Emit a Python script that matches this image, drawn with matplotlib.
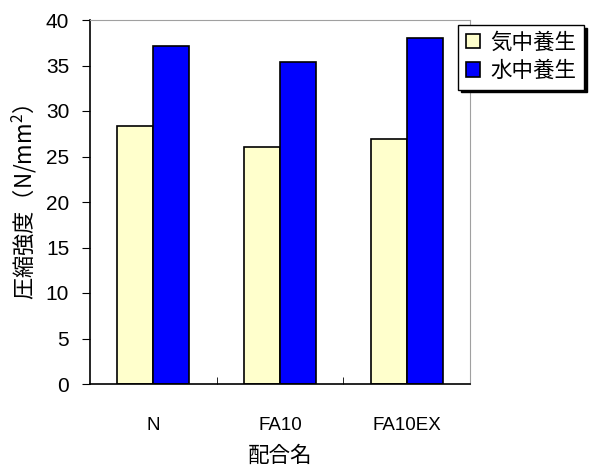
import numpy as np
import matplotlib
matplotlib.use("Agg")
import matplotlib.pyplot as plt

plt.rcParams['font.family'] = ['Liberation Sans', 'Noto Sans CJK JP', 'DejaVu Sans']
# mathtext (only the y label uses it) needs one font holding both CJK and Latin
plt.rcParams['mathtext.fontset'] = 'custom'
plt.rcParams['mathtext.rm'] = 'Noto Sans CJK JP'
plt.rcParams['mathtext.default'] = 'rm'

# 配合ごとの圧縮強度 (N/mm2)
mixes = ['N', 'FA10', 'FA10EX']
air_cured = [28.4, 26.0, 26.9]     # 気中養生
water_cured = [37.1, 35.4, 38.0]   # 水中養生
series_names = ['気中養生', '水中養生']

fig = plt.figure(figsize=(5.92, 4.66), dpi=100)
ax = fig.add_axes([90/592, 1 - 384/466, 380/592, 364/466])

x = np.arange(len(mixes))
w = 0.285
ax.bar(x - w/2, air_cured, w, color='#FFFFCC', edgecolor='black', linewidth=1.2, label=series_names[0])
ax.bar(x + w/2, water_cured, w, color='#0000FF', edgecolor='black', linewidth=1.2, label=series_names[1])

ax.set_xlim(-0.5, len(mixes) - 0.5)
ax.set_ylim(0, 40)
ax.set_yticks(np.arange(0, 41, 5))
ax.set_xticks(x)
ax.set_xticklabels(mixes)
ax.set_xticks(np.arange(0.5, len(mixes) - 0.5), minor=True)
ax.tick_params(axis='x', which='major', length=0, pad=24, labelsize=13.5)
ax.tick_params(axis='x', which='minor', direction='in', length=5)
ax.tick_params(axis='y', direction='out', length=6, labelsize=15, pad=9)

for side in ['top', 'right']:
    ax.spines[side].set_color('#A0A0A0')
for side in ['left', 'bottom']:
    ax.spines[side].set_linewidth(1.2)

ax.set_xlabel('配合名', fontsize=15.5, labelpad=8)
ax.set_ylabel('圧縮強度（N/mm$^{2}$）', fontsize=16, labelpad=5,
              family='Noto Sans CJK JP')

leg = ax.legend(loc='upper left', bbox_to_anchor=(458/592, 1 - 25/466),
                bbox_transform=fig.transFigure, fontsize=15.5, frameon=True,
                fancybox=False, shadow={'color': 'black', 'alpha': 1},
                handlelength=0.65, handleheight=0.65, handletextpad=0.5,
                borderpad=0.35, labelspacing=0.35, borderaxespad=0)
leg.get_frame().set_edgecolor('black')
leg.get_frame().set_linewidth(1.0)

fig.savefig('out.png', dpi=100)
